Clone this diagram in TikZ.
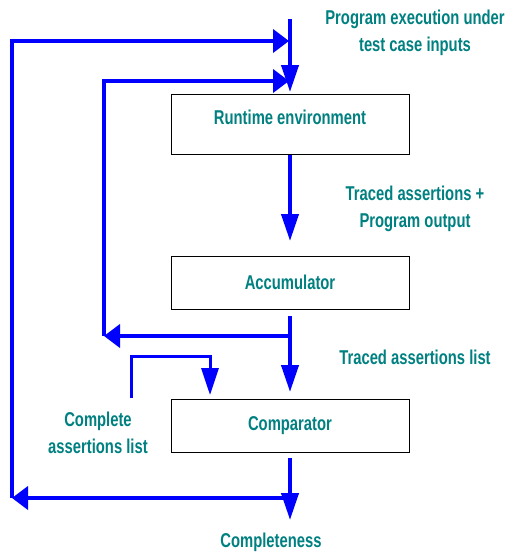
\documentclass[tikz,border=0pt]{standalone}
\usepackage{fontspec}
\setmainfont{Liberation Sans}[FakeStretch=0.74]
\usetikzlibrary{arrows.meta}
\definecolor{flowblue}{RGB}{0,0,255}
\definecolor{labelteal}{RGB}{0,128,128}
\tikzset{
  stage/.style={draw=black, line width=1pt, minimum width=238pt, minimum height=58pt,
    inner sep=0pt, font=\fontsize{20}{27}\selectfont\bfseries, text=labelteal},
  stagelabel/.style={font=\fontsize{20}{27}\selectfont\bfseries, text=labelteal,
    align=center, inner sep=0pt},
  flow/.style={draw=flowblue, line width=4pt},
  thinflow/.style={draw=flowblue, line width=3pt},
  vhead/.style={-{Triangle[length=27pt,width=17pt]}},
  hhead/.style={-{Triangle[length=16pt,width=23pt]}},
}
\begin{document}
\begin{tikzpicture}[x=1pt,y=-1pt]
  \useasboundingbox (0,0) rectangle (506,555);

  % processing stages
  \node[stage, minimum height=60pt, text depth=0pt] (rt) at (290,124) {\raisebox{13pt}{Runtime environment}};
  \node[stage, minimum height=53pt] (acc) at (290,282.5) {Accumulator};
  \node[stage, minimum height=53pt] (cmp) at (290,425.5) {Comparator};

  % junctions and corners of the feedback loops
  \coordinate (in)    at (290,19);
  \coordinate (rtin)  at (290,92);
  \coordinate (accin) at (290,241);
  \coordinate (accout) at (290,316);
  \coordinate (s1)    at (290,336);
  \coordinate (cmpin) at (290,392);
  \coordinate (c1)    at (104,336);
  \coordinate (m2)    at (289,81);
  \coordinate (cmpout) at (290,458);
  \coordinate (s2)    at (290,498);
  \coordinate (done)  at (290,520);
  \coordinate (c2)    at (12,498);
  \coordinate (m1)    at (289,41);
  \coordinate (ref)   at (131,398);
  \coordinate (refin) at (210,395);

  % labels
  \node[stagelabel] (lin) at (415,32.5) {Program execution under\\test case inputs};
  \node[stagelabel] (ltr) at (415,208.5) {Traced assertions +\\Program output};
  \node[stagelabel] (llist) at (415,357) {Traced assertions list};
  \node[stagelabel] (lref) at (98,432.5) {Complete\\assertions list};
  \node[stagelabel] (lout) at (271,542) {Completeness};

  % main flow
  \draw[flow, vhead] (in) -- (rtin);
  \draw[flow, vhead] (rt.south) -- (accin);
  \draw[flow] (accout) -- (s1);
  \draw[flow, vhead] (s1) -- (cmpin);
  \draw[flow] (cmpout) -- (s2);
  \draw[flow, vhead] (s2) -- (done);

  % inner loop: accumulator back to runtime
  \draw[flow, hhead] (s1) -- (c1);
  \draw[flow, hhead] (c1) -- (c1 |- m2) -- (m2);

  % outer loop: comparator back to runtime
  \draw[flow, hhead] (s2) -- (c2);
  \draw[flow, hhead] (c2) -- (c2 |- m1) -- (m1);

  % reference assertions into comparator
  \draw[thinflow, vhead] (ref) -- (131,356) -| (refin);
\end{tikzpicture}
\end{document}
